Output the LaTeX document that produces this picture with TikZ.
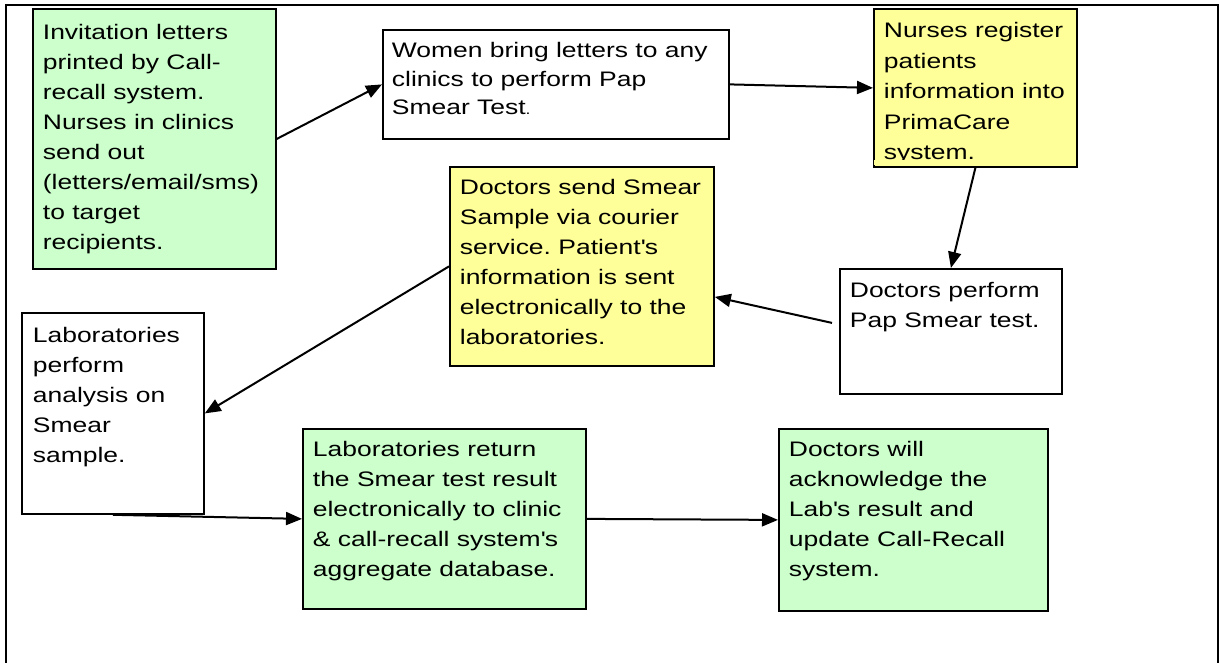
\documentclass[tikz,border=0pt]{standalone}
\usepackage{fontspec}
\setmainfont{Liberation Sans}[FakeStretch=1.26]
\usetikzlibrary{arrows.meta}
\definecolor{boxgreen}{HTML}{CCFFCC}
\definecolor{boxyellow}{HTML}{FFFF99}
\frenchspacing
\newcommand{\bxtext}[4]{\parbox[t][#1][t]{#2}{\rule{0pt}{#3}#4}}
\tikzset{
  stepbox/.style={draw=black, line width=0.9pt, anchor=north west, inner ysep=0pt, inner xsep=5pt,
    font=\fontsize{10.5pt}{15pt}\selectfont},
  arr/.style={-{Triangle[length=8pt,width=6.5pt]}, line width=1pt},
  frame/.style={line width=1pt}
}
\begin{document}
\begin{tikzpicture}[x=0.5pt,y=-0.5pt]
\useasboundingbox (0,0) rectangle (1220,663);
\draw[frame] (6,663) -- (6,5) -- (1218,5) -- (1218,663);

\node[stepbox, fill=boxgreen] (n1) at (32,8)
  {\bxtext{130pt}{111.5pt}{15.5pt}{Invitation letters\\printed by Call-\\recall system.\\Nurses in clinics\\send out\\(letters/email/sms)\\to target\\recipients.}};

\node[stepbox, fill=white, inner xsep=4.5pt, font=\fontsize{10.5pt}{14.15pt}\selectfont] (n2) at (382,29)
  {\bxtext{54.5pt}{164pt}{14pt}{Women bring letters to any\\clinics to perform Pap\\Smear Test{\fontsize{7pt}{8pt}\selectfont .}}};

\node[stepbox, fill=boxyellow, font=\fontsize{10.5pt}{15.25pt}\selectfont] (n3) at (873,8)
  {\bxtext{79pt}{91.5pt}{14.5pt}{Nurses register\\patients\\information into\\PrimaCare\\system.}};
\fill[boxyellow] (874,160.5) rectangle (1075.2,165.1);

\node[stepbox, fill=white] (n4) at (839,268)
  {\bxtext{62.5pt}{101pt}{14.5pt}{Doctors perform\\Pap Smear test.}};

\node[stepbox, fill=boxyellow] (n5) at (449,166)
  {\bxtext{99.5pt}{122pt}{14pt}{Doctors send Smear\\Sample via courier\\service. Patient\textquotesingle s\\information is sent\\electronically to the\\laboratories.}};

\node[stepbox, fill=white, inner xsep=5.5pt] (n6) at (21,312)
  {\bxtext{100.5pt}{80pt}{15pt}{Laboratories\\perform\\analysis on\\Smear\\sample.}};

\node[stepbox, fill=boxgreen] (n7) at (302,428)
  {\bxtext{90pt}{131.5pt}{14pt}{Laboratories return\\the Smear test result\\electronically to clinic\\\& call-recall system\textquotesingle s\\aggregate database.}};

\node[stepbox, fill=boxgreen] (n8) at (778,428)
  {\bxtext{91pt}{124.5pt}{14pt}{Doctors will\\acknowledge the\\Lab\textquotesingle s result and\\update Call-Recall\\system.}};

\draw[arr] (n1.east) -- (n2.west);
\draw[arr] (n2.east) -- (n3.west);
\draw[arr] (n3.south) -- (n4.north);
\draw[arr] ([xshift=-3.5pt,yshift=4.25pt]n4.west) -- ([yshift=-15.25pt]n5.east);
\draw[arr] (n5.west) -- (n6.east);
\draw[arr] (n6.south) -- (n7.west);
\draw[arr] (n7.east) -- (n8.west);
\end{tikzpicture}
\end{document}
